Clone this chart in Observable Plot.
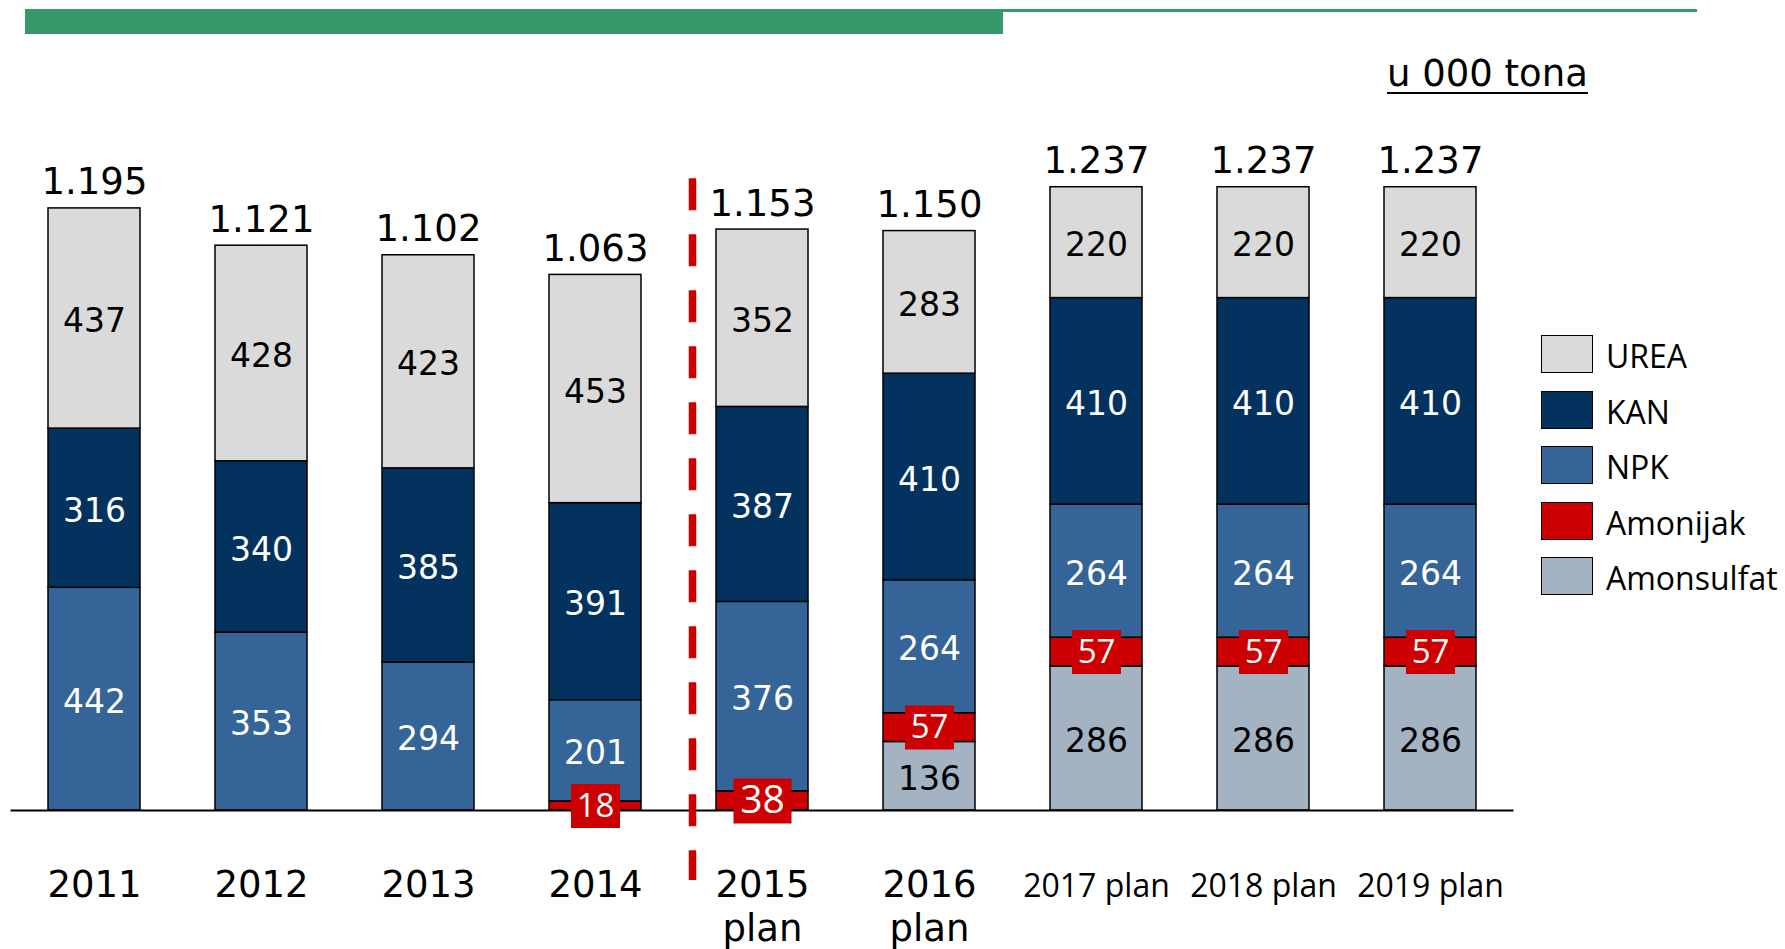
<!DOCTYPE html>
<html>
<head>
<meta charset="utf-8">
<script src="https://cdn.jsdelivr.net/npm/d3@7"></script>
<script src="https://cdn.jsdelivr.net/npm/@observablehq/plot@0.6"></script>
<style>
  html, body { margin: 0; padding: 0; background: #fff; }
  #wrap { position: relative; width: 1785px; height: 949px; overflow: hidden; }
  #chart { position: absolute; left: 0; top: 0; }
  .bar-thick { position: absolute; left: 25px; top: 9px; width: 978px; height: 25px; background: #349868; }
  .bar-thin { position: absolute; left: 1003px; top: 9px; width: 694px; height: 3px; background: #349868; }
  .unit { position: absolute; left: 1387px; top: 52px; font: 37px "DejaVu Sans", sans-serif; color: #000;
          text-decoration: underline; text-underline-offset: 6px; text-decoration-thickness: 2px; white-space: nowrap; }
  .legend { position: absolute; left: 1541px; top: 335px; font: 32px "Open Sans", sans-serif; color: #000; }
  .legend .item { position: relative; height: 55.5px; }
  .legend .sw { position: absolute; left: 0; top: 0; width: 50px; height: 36px; border: 1.5px solid #000; }
  .legend .lab { position: absolute; left: 65px; top: 21px; transform: translateY(-50%); white-space: nowrap; line-height: 1; }
</style>
</head>
<body>
<div id="wrap">
  <div class="bar-thick"></div>
  <div class="bar-thin"></div>
  <div id="chart"></div>
  <div class="unit">u 000 tona</div>
  <div class="legend" id="legend"></div>
</div>
<script>
// ---- data ----
const years = ["2011", "2012", "2013", "2014", "2015\nplan", "2016\nplan", "2017 plan", "2018 plan", "2019 plan"];
const seriesNames = ["Amonsulfat", "Amonijak", "NPK", "KAN", "UREA"]; // bottom to top
const amonsulfat = [0, 0, 0, 0, 0, 136, 286, 286, 286];
const amonijak   = [0, 0, 0, 18, 38, 57, 57, 57, 57];
const npk        = [442, 353, 294, 201, 376, 264, 264, 264, 264];
const kan        = [316, 340, 385, 391, 387, 410, 410, 410, 410];
const urea       = [437, 428, 423, 453, 352, 283, 220, 220, 220];
const seriesColors = ["#a3b3c2", "#cc0000", "#346498", "#03325f", "#dadada"];
const legendOrder = ["UREA", "KAN", "NPK", "Amonijak", "Amonsulfat"];
const firstPlanYear = "2015\nplan";

const valuesBySeries = [amonsulfat, amonijak, npk, kan, urea];
const table = [];
years.forEach((year, i) => {
  seriesNames.forEach((s, j) => table.push({year, series: s, value: valuesBySeries[j][i]}));
});
const totals = years.map((year, i) => ({year, total: d3.sum(valuesBySeries, v => v[i])}));

const fmtLocale = d3.formatLocale({decimal: ",", thousands: ".", grouping: [3], currency: ["", ""]});
const fmtTotal = fmtLocale.format(",");

const boxSymbol = (w, h) => ({draw(ctx) { ctx.rect(-w / 2, -h / 2, w, h); }});

const stackOpts = {x: "year", y: "value", z: "series", order: seriesNames};
const isLight = d => d.series === "UREA" || d.series === "Amonsulfat";

const plot = Plot.plot({
  width: 1785,
  height: 949,
  marginLeft: 10.5,
  marginRight: 271.5,
  marginTop: 155,
  marginBottom: 139,
  style: {background: "transparent", overflow: "visible"},
  x: {domain: years, paddingInner: 0.45, paddingOuter: 0.225, axis: null},
  y: {domain: [0, 1300], axis: null},
  color: {domain: seriesNames, range: seriesColors},
  marks: [
    Plot.barY(table, Plot.filter(d => d.value > 0, Plot.stackY({...stackOpts, fill: "series", stroke: "#000", strokeWidth: 1.5}))),
    Plot.ruleY([0], {stroke: "#000", strokeWidth: 2}),
    // dashed separator between actuals and plans (drawn top-down so dashes start at the top)
    Plot.ruleX([firstPlanYear], {x: d => d, dx: -70, y1: () => 1254, y2: () => -139, stroke: "#cc0000", strokeWidth: 7.5,
      strokeDasharray: "32,24"}),
    // red boxes for Amonijak
    Plot.dot(table, Plot.filter(d => d.series === "Amonijak" && d.value > 0 && d.year !== firstPlanYear,
      Plot.stackY({...stackOpts, fill: "#cc0000", stroke: "none", r: 1, symbol: boxSymbol(49, 44)}))),
    Plot.dot(table, Plot.filter(d => d.series === "Amonijak" && d.value > 0 && d.year === firstPlanYear,
      Plot.stackY({...stackOpts, fill: "#cc0000", stroke: "none", r: 1, symbol: boxSymbol(58, 45)}))),
    // segment labels
    Plot.text(table, Plot.filter(d => d.value > 0 && d.series !== "Amonijak",
      Plot.stackY({...stackOpts, text: d => String(d.value), fill: d => isLight(d) ? "#000" : "#fff",
        fontSize: 33, dy: 3, fontFamily: "DejaVu Sans"}))),
    Plot.text(table, Plot.filter(d => d.series === "Amonijak" && d.value > 0,
      Plot.stackY({...stackOpts, text: d => String(d.value), fill: "#fff",
        fontSize: d => d.year === firstPlanYear ? 39 : 33, fontFamily: "Open Sans"}))),
    // totals
    Plot.text(totals, {x: "year", y: "total", text: d => fmtTotal(d.total), lineAnchor: "bottom", dy: -14,
      fontSize: 37, fontFamily: "DejaVu Sans", fill: "#000"}),
    // x labels
    Plot.text(years.filter(y => !y.includes(" plan")), {x: d => d, y: 0, text: d => d, lineAnchor: "top", dy: 55,
      lineHeight: 1.2, fontSize: 37, fontFamily: "DejaVu Sans", fill: "#000"}),
    Plot.text(years.filter(y => y.includes(" plan")), {x: d => d, y: 0, text: d => d, lineAnchor: "top", dy: 64,
      fontSize: 32, fontFamily: "Open Sans", fill: "#000"})
  ]
});
document.getElementById("chart").appendChild(plot);

const legend = document.getElementById("legend");
legendOrder.forEach(name => {
  const item = document.createElement("div");
  item.className = "item";
  const sw = document.createElement("div");
  sw.className = "sw";
  sw.style.background = seriesColors[seriesNames.indexOf(name)];
  const lab = document.createElement("div");
  lab.className = "lab";
  lab.textContent = name;
  item.appendChild(sw);
  item.appendChild(lab);
  legend.appendChild(item);
});
</script>
</body>
</html>
